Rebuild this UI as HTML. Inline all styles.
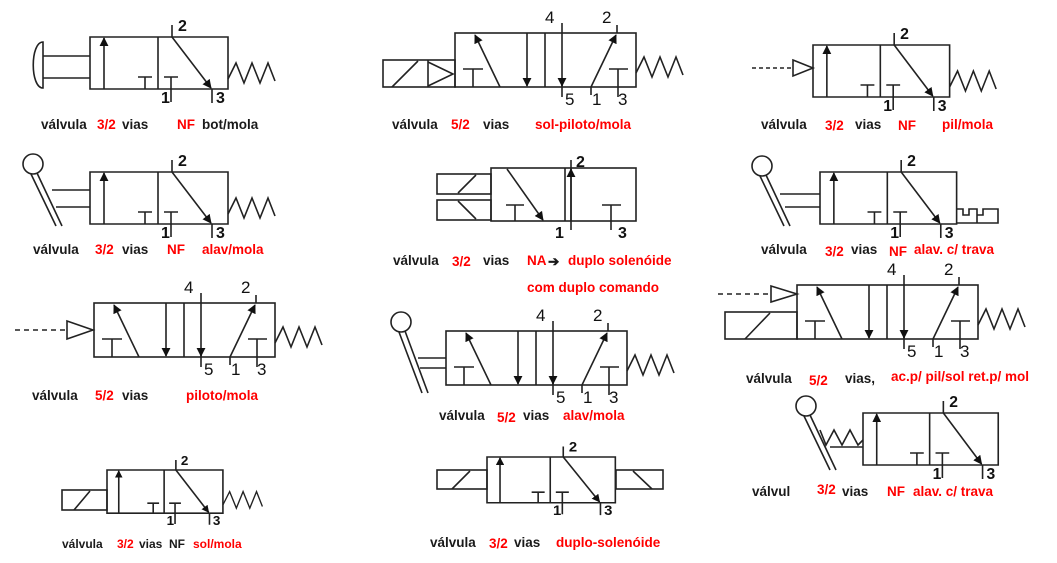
<!DOCTYPE html>
<html><head><meta charset="utf-8"><style>
html,body{margin:0;padding:0;background:#fff}
svg{display:block}
text{font-family:"Liberation Sans",Arial,sans-serif}
.c{font-weight:bold;font-size:13.5px;fill:#1a1a1a}
.r{fill:#ff0000}
.s{fill:none;stroke:#222;stroke-width:1.6}
</style></head><body>
<svg id="d" width="1057" height="563" viewBox="0 0 1057 563" xmlns="http://www.w3.org/2000/svg">
<defs><marker id="ah" viewBox="0 0 10 10" refX="9" refY="5" markerWidth="9" markerHeight="9" markerUnits="userSpaceOnUse" orient="auto"><path d="M0,0L10,5L0,10z" fill="#111"/></marker></defs>
<g id="parts"></g>
<g>
<g class="c"><text x="41" y="129">válvula</text><text x="97" y="129" class="r">3/2</text><text x="122" y="129">vias</text><text x="177" y="129" class="r">NF</text><text x="202" y="129">bot/mola</text></g>
<g class="c"><text x="33" y="254">válvula</text><text x="95" y="254" class="r">3/2</text><text x="122" y="254">vias</text><text x="167" y="254" class="r">NF</text><text x="202" y="254" class="r">alav/mola</text></g>
<g class="c"><text x="32" y="400">válvula</text><text x="95" y="400" class="r">5/2</text><text x="122" y="400">vias</text><text x="186" y="400" class="r">piloto/mola</text></g>
<g class="c" style="font-size:12px"><text x="62" y="548">válvula</text><text x="117" y="548" class="r">3/2</text><text x="139" y="548">vias</text><text x="169" y="548">NF</text><text x="193" y="548" class="r">sol/mola</text></g>
<g class="c"><text x="392" y="129">válvula</text><text x="451" y="129" class="r">5/2</text><text x="483" y="129">vias</text><text x="535" y="129" class="r">sol-piloto/mola</text></g>
<g class="c"><text x="393" y="265">válvula</text><text x="452" y="266" class="r">3/2</text><text x="483" y="265">vias</text><text x="527" y="265" class="r">NA</text><text x="548" y="266">➔</text><text x="568" y="265" class="r">duplo solenóide</text><text x="527" y="292" class="r">com duplo comando</text></g>
<g class="c"><text x="439" y="420">válvula</text><text x="497" y="422" class="r">5/2</text><text x="523" y="420">vias</text><text x="563" y="420" class="r">alav/mola</text></g>
<g class="c"><text x="430" y="547">válvula</text><text x="489" y="548" class="r">3/2</text><text x="514" y="547">vias</text><text x="556" y="547" class="r">duplo-solenóide</text></g>
<g class="c"><text x="761" y="129">válvula</text><text x="825" y="130" class="r">3/2</text><text x="855" y="129">vias</text><text x="898" y="130" class="r">NF</text><text x="942" y="129" class="r">pil/mola</text></g>
<g class="c"><text x="761" y="254">válvula</text><text x="825" y="256" class="r">3/2</text><text x="851" y="254">vias</text><text x="889" y="256" class="r">NF</text><text x="914" y="254" class="r">alav. c/ trava</text></g>
<g class="c"><text x="746" y="383">válvula</text><text x="809" y="385" class="r">5/2</text><text x="845" y="383">vias,</text><text x="891" y="381" class="r">ac.p/ pil/sol ret.p/ mol</text></g>
<g class="c"><text x="752" y="496">válvul</text><text x="817" y="494" class="r">3/2</text><text x="842" y="496">vias</text><text x="887" y="496" class="r">NF</text><text x="913" y="496" class="r">alav. c/ trava</text></g>
</g>
</svg>
<script>
var P=document.getElementById('parts');
function spring(x,y){return '<polyline class="s" points="'+x+','+(y+10)+' '+(x+8)+','+(y-6)+' '+(x+16)+','+(y+14)+' '+(x+24)+','+(y-6)+' '+(x+32)+','+(y+14)+' '+(x+40)+','+(y-6)+' '+(x+47)+','+(y+12)+'"/>';}
function v32(x,y,sx,sy,sp){
 var s='<g transform="translate('+x+','+y+') scale('+sx+','+sy+')">';
 s+='<rect class="s" x="0" y="0" width="138" height="52" vector-effect="non-scaling-stroke"/>';
 s+='<g class="s" style="stroke-width:1.6" >';
 s+='<line x1="68" y1="0" x2="68" y2="52" vector-effect="non-scaling-stroke"/>';
 s+='<line x1="14" y1="52" x2="14" y2="1" marker-end="url(#ah)" vector-effect="non-scaling-stroke"/>';
 s+='<path d="M48,40H62M55,40V52M74,40H88M81,40V65M82,-12V0M122,52V66" vector-effect="non-scaling-stroke"/>';
 s+='<line x1="82" y1="0" x2="121" y2="51" marker-end="url(#ah)" vector-effect="non-scaling-stroke"/></g>';
 s+='<g style="font-weight:bold;font-size:16px;fill:#111"><text x="88" y="-6">2</text><text x="71" y="66">1</text><text x="126" y="66">3</text></g>';
 if(sp) s+=spring(138,32);
 return s+'</g>';
}
function v52(x,y){
 var s='<g transform="translate('+x+','+y+')"><rect class="s" x="0" y="0" width="181" height="54"/><g class="s">';
 s+='<path d="M90,0V54M8,36H28M18,36V54M154,36H173M163,36V64M162,-8V0M136,54V62M107,52V64"/>';
 s+='<line x1="45" y1="54" x2="20" y2="2" marker-end="url(#ah)"/>';
 s+='<line x1="72" y1="0" x2="72" y2="53" marker-end="url(#ah)"/>';
 s+='<line x1="107" y1="-10" x2="107" y2="53" marker-end="url(#ah)"/>';
 s+='<line x1="136" y1="54" x2="161" y2="2" marker-end="url(#ah)"/></g>';
 s+='<g style="font-size:17px;fill:#111"><text x="90" y="-10">4</text><text x="147" y="-10">2</text><text x="110" y="72">5</text><text x="137" y="72">1</text><text x="163" y="72">3</text></g>';
 s+=spring(181,30);
 return s+'</g>';
}
function lever(cx,cy,x2,y2){return '<circle class="s" cx="'+cx+'" cy="'+cy+'" r="10"/><line class="s" x1="'+(cx-2)+'" y1="'+(cy+10)+'" x2="'+(x2-6)+'" y2="'+y2+'"/><line class="s" x1="'+(cx+4)+'" y1="'+(cy+9)+'" x2="'+x2+'" y2="'+y2+'"/>';}
var parts=[
 ['valve-32-bot-mola', v32(90,37,1,1,1)+'<path class="s" d="M43,42C30,42 30,88 43,88Z M43,56H90M43,78H90"/>'],
 ['valve-32-alav-mola', v32(90,172,1,1,1)+lever(33,164,62,226)+'<path class="s" d="M52,190H90M56,207H90"/>'],
 ['valve-32-pil-mola', v32(813,45,0.99,1,1)+'<line class="s" x1="752" y1="68" x2="793" y2="68" stroke-dasharray="4,3"/><path class="s" d="M793,60L813,68L793,76Z"/>'],
 ['valve-32-alav-trava', v32(820,172,0.99,1,0)+lever(762,166,790,226)+'<path class="s" d="M780,194H820M785,207H820M957,209H963V215H969V209H977V215H983V209H998V223H957M977,215V223"/>'],
 ['valve-32-sol-mola', v32(107,470,0.84,0.83,1)+'<rect class="s" x="62" y="490" width="45" height="20"/><line class="s" x1="74" y1="510" x2="90" y2="491"/>'],
 ['valve-32-duplo-solenoide', v32(487,457,0.93,0.88,0)+'<rect class="s" x="437" y="470" width="50" height="19"/><line class="s" x1="452" y1="489" x2="470" y2="471"/><rect class="s" x="616" y="470" width="47" height="19"/><line class="s" x1="633" y1="471" x2="652" y2="489"/>'],
 ['valve-32-alav-trava-2', v32(863,413,0.98,1,0)+lever(806,406,836,470)+'<polyline class="s" points="820,430 826,445 834,430 842,445 850,430 858,445 863,440"/><path class="s" d="M830,447H863"/>'],
 ['valve-52-sol-piloto-mola', v52(455,33)+'<rect class="s" x="383" y="60" width="72" height="27"/><line class="s" x1="428" y1="60" x2="428" y2="87"/><line class="s" x1="392" y1="87" x2="418" y2="61"/><path class="s" d="M428,62L453,74L428,86"/>'],
 ['valve-52-piloto-mola', v52(94,303)+'<line class="s" x1="15" y1="330" x2="67" y2="330" stroke-dasharray="5,4"/><path class="s" d="M67,321L93,330L67,339Z"/>'],
 ['valve-52-alav-mola', v52(446,331)+lever(401,322,428,393)+'<path class="s" d="M418,358H446M420,368H446"/>'],
 ['valve-52-pil-sol', v52(797,285)+'<line class="s" x1="718" y1="294" x2="771" y2="294" stroke-dasharray="5,4"/><path class="s" d="M771,286L797,294L771,302Z"/><rect class="s" x="725" y="312" width="72" height="27"/><line class="s" x1="745" y1="339" x2="770" y2="313"/>'],
 ['valve-32-na-duplo-solenoide', '<g><rect class="s" x="491" y="168" width="145" height="53"/><path class="s" d="M565,168V221M506,205H524M515,205V221M602,205H621M611,205V230M571,230V160"/><line class="s" x1="507" y1="169" x2="543" y2="220" marker-end="url(#ah)"/><line class="s" x1="571" y1="221" x2="571" y2="169" marker-end="url(#ah)"/><g style="font-weight:bold;font-size:16px;fill:#111"><text x="576" y="167">2</text><text x="555" y="238">1</text><text x="618" y="238">3</text></g><rect class="s" x="437" y="174" width="54" height="20"/><rect class="s" x="437" y="200" width="54" height="20"/><line class="s" x1="458" y1="193" x2="476" y2="175"/><line class="s" x1="458" y1="201" x2="476" y2="219"/></g>']
];
for(var i=0;i<parts.length;i++){
 var g=document.createElementNS('http://www.w3.org/2000/svg','g');
 
 
 g.innerHTML=parts[i][1];
 P.appendChild(g);
}
</script>
</body></html>
